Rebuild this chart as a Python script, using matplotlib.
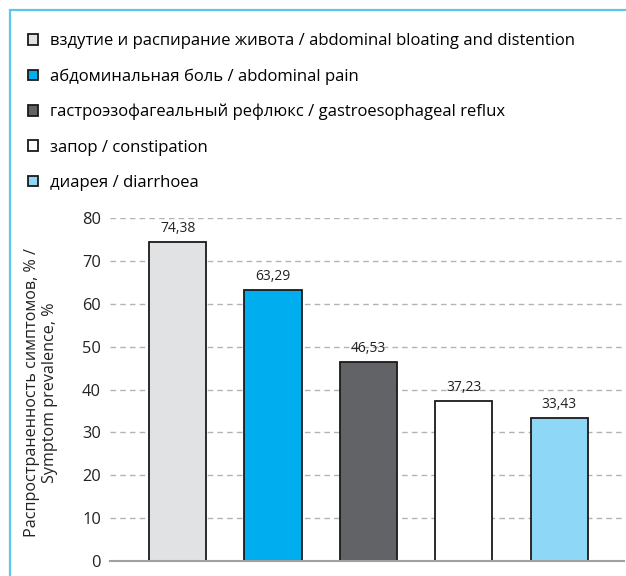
import matplotlib
matplotlib.use('Agg')
import matplotlib.pyplot as plt
from matplotlib.patches import Rectangle

# ---------------------------------------------------------------------------
# Data
# ---------------------------------------------------------------------------
LABELS = [
    'вздутие и распирание живота / abdominal bloating and distention',
    'абдоминальная боль / abdominal pain',
    'гастроэзофагеальный рефлюкс / gastroesophageal reflux',
    'запор / constipation',
    'диарея / diarrhoea',
]
VALUES = [74.38, 63.29, 46.53, 37.23, 33.43]
COLORS = ['#e1e2e4', '#00adee', '#626366', '#ffffff', '#8fd7f7']
Y_TICKS = [0, 10, 20, 30, 40, 50, 60, 70, 80]

plt.rcParams['font.family'] = ['Open Sans', 'DejaVu Sans']

fig = plt.figure(figsize=(6.26, 5.76), dpi=100)
W, H = 626, 576

# light blue frame, open at right and bottom
fig.add_artist(Rectangle((10 / W, -0.1), 1.2, 1 - 10 / H + 0.1,
                         transform=fig.transFigure, fill=False,
                         edgecolor='#5cc6ee', lw=1.6))

ax = fig.add_axes([110 / W, 1 - 561 / H, (624 - 110) / W, (561 - 218) / H])
x = list(range(len(VALUES)))
bars = ax.bar(x, VALUES, width=0.6, color=COLORS, edgecolor='#1a1a1a',
              linewidth=1.3, zorder=3)

for xi, v in zip(x, VALUES):
    ax.text(xi, v + 1.4, f'{v:.2f}'.replace('.', ','), ha='center', va='bottom',
            fontsize=10, color='#222222', zorder=4)

ax.set_xlim(-0.71, 4.68)
ax.set_ylim(0, 80)
ax.set_yticks(Y_TICKS)
ax.set_xticks([])
ax.tick_params(axis='y', length=0, labelsize=11.8, pad=6.5, colors='#222222')
ax.grid(axis='y', linestyle=(0, (4, 3)), color='#b3b3b3', lw=1.0, zorder=0)
for s in ('top', 'right', 'left'):
    ax.spines[s].set_visible(False)
ax.spines['bottom'].set_color('#a0a0a0')
ax.spines['bottom'].set_linewidth(1.5)
ax.spines['bottom'].set_zorder(5)

ax.set_ylabel('Распространенность симптомов, % /\nSymptom prevalence, %',
              fontsize=11.6, color='#222222', linespacing=1.2)
ax.yaxis.set_label_coords(-0.101, 0.49)

fig.legend(bars, LABELS, loc='upper left', bbox_to_anchor=(21 / W, 1 - 26.5 / H),
           frameon=False, fontsize=12, handlelength=0.6, handleheight=0.6,
           handletextpad=0.72, labelspacing=1.15, borderaxespad=0)

fig.savefig('out.png', dpi=100)
